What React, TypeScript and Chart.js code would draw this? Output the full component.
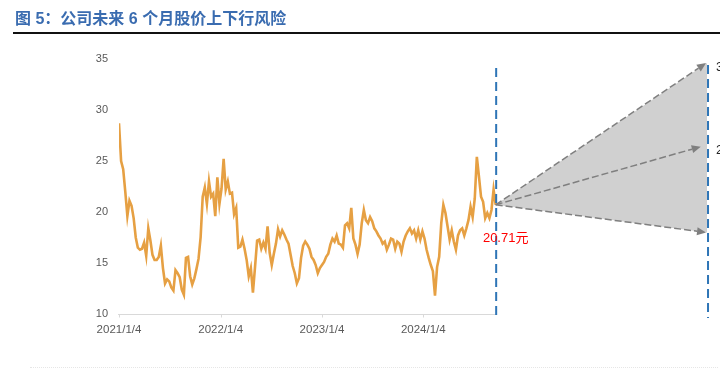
import React, { useEffect, useRef } from "react";
import { Chart, registerables } from "chart.js";

Chart.register(...registerables);

const TITLE = "图 5：公司未来 6 个月股价上下行风险";

// x axis: trading-day index since 2021/1/4
const yearTickDays = [0, 243, 485, 727];
const yearTickLabels = ["2021/1/4", "2022/1/4", "2023/1/4", "2024/1/4"];
const yMin = 10;
const yMax = 35;
const yStep = 5;

// weekly (every 5 trading days) closing prices
const DAYS_PER_SAMPLE = 5;
const weeklyClose = [
  28.7, 25.0, 24.2, 22.0, 19.6, 21.1, 20.6, 19.4, 17.5, 16.5,
  16.3, 16.4, 17.0, 15.7, 18.4, 17.2, 15.8, 15.3, 15.3, 15.6,
  16.7, 14.5, 13.0, 13.4, 13.2, 12.6, 12.3, 14.3, 14.0, 13.6,
  12.4, 11.9, 15.5, 15.6, 13.7, 12.9, 13.5, 14.4, 15.4, 17.5,
  21.5, 22.4, 20.8, 23.0, 21.5, 21.8, 19.6, 23.4, 20.8, 22.3,
  25.2, 22.2, 23.0, 21.8, 21.9, 19.8, 20.4, 16.5, 16.6, 17.3,
  16.4, 15.3, 13.7, 14.5, 12.1, 14.6, 17.2, 17.3, 16.4, 17.0,
  16.4, 18.6, 16.0, 14.8, 15.9, 16.9, 18.3, 17.6, 18.2, 17.8,
  17.3, 16.9, 15.8, 14.7, 14.0, 13.0, 13.5, 15.5, 16.7, 17.1,
  16.8, 16.4, 15.6, 15.3, 14.8, 14.0, 14.5, 14.8, 15.1, 15.6,
  15.9, 16.8, 17.4, 17.1, 17.7, 16.9, 16.8, 16.5, 18.7, 18.9,
  18.4, 20.4, 17.4, 16.8, 15.9, 16.8, 18.9, 20.2, 19.2, 18.9,
  19.5, 19.1, 18.4, 18.1, 17.7, 17.4, 16.9, 17.1, 16.3, 16.8,
  17.4, 17.3, 16.4, 17.1, 16.9, 16.1, 17.1, 17.7, 18.1, 18.4,
  17.9, 18.2, 17.4, 18.2, 17.3, 18.1, 17.4, 16.3, 15.5, 14.8,
  14.2, 11.8, 14.6, 15.6, 18.9, 20.7, 19.9, 18.6, 17.3, 18.2,
  17.1, 16.3, 17.7, 18.2, 18.4, 17.7, 18.4, 19.2, 20.5, 19.5,
  21.3, 25.4, 23.5, 21.5, 21.0, 19.4, 19.9, 19.4, 20.2, 22.2, 20.71,
];

// forecast illustration (6-month horizon, schematic)
const currentPrice = 20.71;
const currentLabel = "20.71元";
const horizonDay = 1405;
const midTipDay = 1390;
const xAxisMax = 1436;
const forecastHigh = 34.6;
const forecastMid = 26.4;
const forecastLow = 18.0;
const forecastLabels = ["34.6元", "26.4元", "18.0元"];

const FONT = "'Liberation Sans', Arial, 'Noto Sans CJK SC', sans-serif";

function drawArrow(ctx: CanvasRenderingContext2D, x0: number, y0: number, x1: number, y1: number) {
  const ang = Math.atan2(y1 - y0, x1 - x0);
  const head = 9;
  const half = 4;
  const bx = x1 - head * Math.cos(ang);
  const by = y1 - head * Math.sin(ang);
  ctx.save();
  ctx.strokeStyle = "#7f7f7f";
  ctx.fillStyle = "#7f7f7f";
  ctx.lineWidth = 1.5;
  ctx.setLineDash([7, 3]);
  ctx.beginPath();
  ctx.moveTo(x0, y0);
  ctx.lineTo(bx, by);
  ctx.stroke();
  ctx.setLineDash([]);
  ctx.beginPath();
  ctx.moveTo(x1, y1);
  ctx.lineTo(bx + half * Math.sin(ang), by - half * Math.cos(ang));
  ctx.lineTo(bx - half * Math.sin(ang), by + half * Math.cos(ang));
  ctx.closePath();
  ctx.fill();
  ctx.restore();
}

const overlayPlugin = {
  id: "forecastOverlay",
  beforeDatasetsDraw(chart: any) {
    const { ctx, scales, chartArea } = chart;
    const x = scales.x;
    const y = scales.y;
    const lastDay = (weeklyClose.length - 1) * DAYS_PER_SAMPLE;
    const sx = x.getPixelForValue(lastDay);
    const sy = y.getPixelForValue(currentPrice);
    const ex = x.getPixelForValue(horizonDay);
    ctx.save();
    // shaded range
    ctx.fillStyle = "#d0d0d0";
    ctx.beginPath();
    ctx.moveTo(sx, sy);
    ctx.lineTo(ex, y.getPixelForValue(forecastHigh));
    ctx.lineTo(ex, y.getPixelForValue(forecastLow));
    ctx.closePath();
    ctx.fill();
    // x axis line (history part only)
    const by = Math.round(chartArea.bottom) + 0.5;
    ctx.strokeStyle = "#d9d9d9";
    ctx.lineWidth = 1;
    ctx.beginPath();
    ctx.moveTo(x.getPixelForValue(0) - 1, by);
    ctx.lineTo(sx, by);
    ctx.stroke();
    yearTickDays.forEach((d) => {
      const px = Math.round(x.getPixelForValue(d)) + 0.5;
      ctx.beginPath();
      ctx.moveTo(px, by);
      ctx.lineTo(px, by + 3);
      ctx.stroke();
    });
    ctx.restore();
  },
  afterDatasetsDraw(chart: any) {
    const { ctx, scales, chartArea } = chart;
    const x = scales.x;
    const y = scales.y;
    const lastDay = (weeklyClose.length - 1) * DAYS_PER_SAMPLE;
    const sx = x.getPixelForValue(lastDay);
    const sy = y.getPixelForValue(currentPrice);
    const ex = x.getPixelForValue(horizonDay);
    const mx = x.getPixelForValue(midTipDay);
    const hy = y.getPixelForValue(forecastHigh);
    const my = y.getPixelForValue(forecastMid);
    const ly = y.getPixelForValue(forecastLow);

    drawArrow(ctx, sx, sy, ex - 1, hy);
    drawArrow(ctx, sx, sy, mx, my);
    drawArrow(ctx, sx, sy, ex - 1, ly);

    ctx.save();
    // blue dashed vertical lines
    ctx.strokeStyle = "#2e75b6";
    ctx.lineWidth = 2;
    ctx.setLineDash([9, 5]);
    ctx.beginPath();
    ctx.moveTo(sx + 0.5, chartArea.top + 9);
    ctx.lineTo(sx + 0.5, chartArea.bottom + 2);
    ctx.stroke();
    ctx.beginPath();
    ctx.moveTo(ex + 1, chartArea.top + 6);
    ctx.lineTo(ex + 1, chartArea.bottom + 4);
    ctx.stroke();
    ctx.setLineDash([]);

    // current price label
    ctx.fillStyle = "#ff0000";
    ctx.font = `13px ${FONT}`;
    ctx.textAlign = "center";
    ctx.textBaseline = "middle";
    ctx.fillText(currentLabel, sx + 10, sy + 34);

    // forecast labels (clipped by the right edge)
    ctx.fillStyle = "#262626";
    ctx.textAlign = "left";
    const ys = [hy, my, ly];
    const dx = [9, 9, 12];
    forecastLabels.forEach((t, i) => {
      ctx.fillText(t, ex + dx[i], ys[i] + 4);
    });
    ctx.restore();
  },
};

export default function App() {
  const ref = useRef<HTMLCanvasElement | null>(null);

  useEffect(() => {
    if (!ref.current) return;
    const points = weeklyClose.map((v, i) => ({ x: i * DAYS_PER_SAMPLE, y: v }));
    const chart = new Chart(ref.current, {
      type: "line",
      data: {
        datasets: [
          {
            data: points,
            borderColor: "#e6a043",
            borderWidth: 2.6,
            pointRadius: 0,
            tension: 0,
            fill: false,
          },
        ],
      },
      options: {
        responsive: false,
        animation: false,
        events: [],
        layout: { padding: { top: 59, left: 0, right: 0, bottom: 0 } },
        plugins: { legend: { display: false }, tooltip: { enabled: false } },
        scales: {
          x: {
            type: "linear",
            min: 0,
            max: xAxisMax,
            grid: { display: false, drawTicks: false },
            border: { display: false },
            afterBuildTicks: (s: any) => {
              s.ticks = yearTickDays.map((v) => ({ value: v }));
            },
            afterFit: (s: any) => {
              s.height = 55;
            },
            ticks: {
              autoSkip: false,
              maxRotation: 0,
              padding: 9,
              color: "#595959",
              font: { size: 11.5, family: FONT },
              callback: (v: any) => {
                const idx = yearTickDays.indexOf(Number(v));
                return idx >= 0 ? yearTickLabels[idx] : "";
              },
            },
          },
          y: {
            min: yMin,
            max: yMax,
            grid: { display: false, drawTicks: false },
            border: { display: false },
            afterFit: (s: any) => {
              s.width = 119;
            },
            ticks: {
              stepSize: yStep,
              padding: 11,
              color: "#595959",
              font: { size: 11, family: FONT },
            },
          },
        },
      },
      plugins: [overlayPlugin],
    });
    return () => chart.destroy();
  }, []);

  return (
    <div style={{ position: "fixed", left: 0, top: 0, width: 720, height: 369, background: "#fff", overflow: "hidden" }}>
      <canvas ref={ref} width={720} height={369} style={{ position: "absolute", left: 0, top: 0, width: 720, height: 369 }} />
      <div
        style={{
          position: "absolute",
          left: 15,
          top: 9,
          fontFamily: "'Liberation Sans', 'Noto Sans CJK SC', sans-serif",
          fontWeight: "bold",
          fontSize: 16,
          color: "#3a6cb0",
          whiteSpace: "nowrap",
          lineHeight: "20px",
        }}
      >
        {TITLE}
      </div>
      <div style={{ position: "absolute", left: 13, top: 32, width: 707, height: 2, background: "#111" }} />
      <div style={{ position: "absolute", left: 30, top: 367, width: 688, height: 0, borderTop: "1px dotted #e6e6e6" }} />
    </div>
  );
}
